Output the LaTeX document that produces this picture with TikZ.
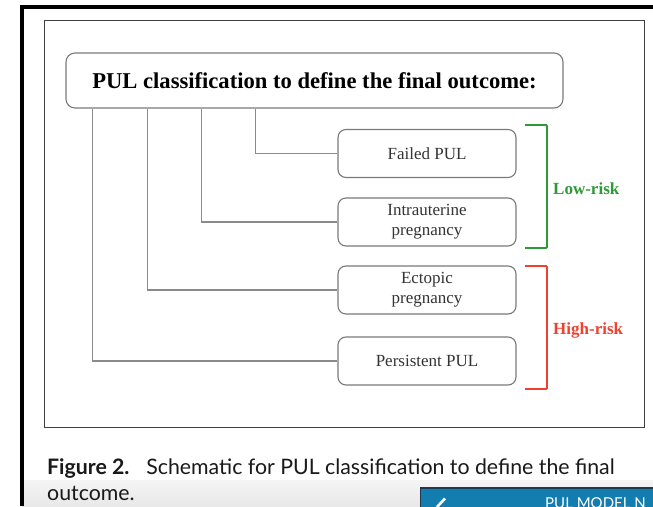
\documentclass[tikz,border=0pt]{standalone}
\usepackage{fontspec}
\setmainfont{Liberation Serif}
\newfontfamily\capfont{Lato}
\usetikzlibrary{positioning}
\definecolor{linegray}{HTML}{8A8A8A}
\definecolor{boxgray}{HTML}{7A7A7A}
\definecolor{txtgray}{HTML}{333333}
\definecolor{lowgreen}{HTML}{2E9A35}
\definecolor{highred}{HTML}{F0402E}
\definecolor{btnblue}{HTML}{147DB0}
\definecolor{btnedge}{HTML}{1C3A50}
\tikzset{
  catbox/.style={draw=boxgray, line width=1.1pt, rounded corners=8pt, fill=white,
    minimum width=178pt, minimum height=48pt, align=center, inner sep=0pt,
    font=\fontsize{17}{20}\selectfont, text=txtgray},
  titlebox/.style={draw=boxgray, line width=1.1pt, rounded corners=9pt, fill=white,
    minimum width=497pt, minimum height=55pt, inner sep=0pt,
    font=\fontsize{22.6}{26}\selectfont\bfseries, text=black},
  conn/.style={draw=linegray, line width=1.1pt},
  bracket/.style={line width=1.8pt, rounded corners=1pt},
  risklabel/.style={font=\fontsize{17}{20}\selectfont\bfseries, anchor=west, inner sep=0pt},
  captext/.style={anchor=base west, inner sep=0pt, text=black!90,
    font=\capfont\fontsize{21.3}{27}\selectfont},
}
\begin{document}
\begin{tikzpicture}[x=1pt,y=-1pt]
\useasboundingbox (0,0) rectangle (653,506);
\fill[white] (0,0) rectangle (653,506);
\begin{scope}
\clip (0,0) rectangle (653,506);
% bottom gray band
\shade[top color=white!96!black, bottom color=white!91!black] (22,480) rectangle (653,506);
% outer black frame
\draw[black, line width=4pt] (22,506) -- (22,6.5) -- (653,6.5);
% inner frame
\draw[black!75, line width=0.9pt] (44.7,20) rectangle (644,427);

% title
\node[titlebox] (title) at (314.5,80.5) {PUL classification to define the final outcome:};

% category boxes
\node[catbox] (fail)  at (427,153.5) {Failed PUL};
\node[catbox] (intra) at (427,222)   {Intrauterine\\pregnancy};
\node[catbox] (ecto)  at (427,290)   {Ectopic\\pregnancy};
\node[catbox] (pers)  at (427,361)   {Persistent PUL};

% connectors
\draw[conn] ([xshift=190pt]title.south west) |- (fail.west);
\draw[conn] ([xshift=136pt]title.south west) |- (intra.west);
\draw[conn] ([xshift=82pt]title.south west) |- (ecto.west);
\draw[conn] ([xshift=27pt]title.south west) |- (pers.west);

% brackets
\coordinate (g1) at (525,125);
\coordinate (g2) at (525,248);
\coordinate (r1) at (525,266);
\coordinate (r2) at (525,389);
\draw[bracket, lowgreen] (g1) -- ++(22,0) |- (g2);
\draw[bracket, highred] (r1) -- ++(22,0) |- (r2);
\node[risklabel, text=lowgreen] (low) at (553,189) {Low-risk};
\node[risklabel, text=highred] (high) at (553,330) {High-risk};

% caption
\node[captext] (cap1) at (47,474)
  {\textbf{Figure 2.}\hspace{0.45em} Schematic for PUL classification to define the final};
\node[captext] (cap2) at (47,500) {outcome.};

% button
\draw[fill=btnblue, draw=btnedge, line width=1.4pt] (420.5,488) rectangle (670,520);
\draw[white, line width=2.6pt] (437,507) -- (445,498.5);
\node[anchor=base west, inner sep=0pt, text=white,
      font=\capfont\fontsize{15}{18}\selectfont] (btn) at (545,508.5) {PUL MODEL N};
\end{scope}
\end{tikzpicture}
\end{document}
